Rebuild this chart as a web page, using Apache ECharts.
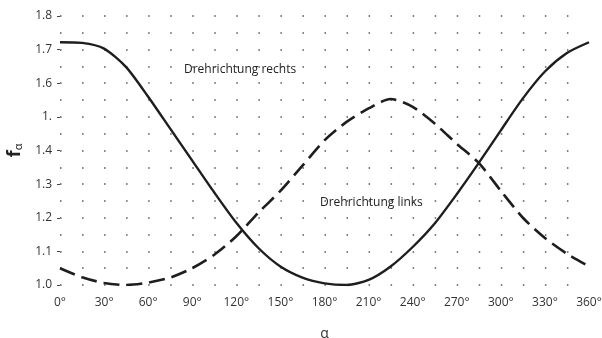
<!DOCTYPE html>
<html><head><meta charset="utf-8">
<script src="https://cdn.jsdelivr.net/npm/echarts@6/dist/echarts.min.js"></script>
<style>html,body{margin:0;padding:0;background:#fff}#c{width:602px;height:338px}</style>
</head><body><div id="c"></div>
<script>
var angles = [0,15,30,45,60,75,90,105,120,135,150,165,180,195,210,225,240,255,270,285,300,315,330,345,360];
var rechts = [1.722,1.720,1.703,1.648,1.56,1.465,1.37,1.275,1.185,1.11,1.055,1.022,1.005,1.0,1.015,1.055,1.113,1.183,1.27,1.363,1.46,1.555,1.635,1.69,1.722];
var links  = [1.05,1.023,1.006,1.0,1.007,1.022,1.05,1.09,1.145,1.215,1.28,1.355,1.43,1.485,1.525,1.553,1.53,1.48,1.42,1.363,1.28,1.2,1.14,1.093,1.055];
var xTickLabels = ['0°','30°','60°','90°','120°','150°','180°','210°','240°','270°','300°','330°','360°'];
var yTickLabels = ['1.0','1.1','1.2','1.3','1.4','1.','1.6','1.7','1.8'];
var labelRechts = 'Drehrichtung rechts';
var labelLinks = 'Drehrichtung links';

function pairs(a){ return angles.map(function(x,i){ return [x, a[i]]; }); }
var FONT = 'Open Sans';
var chart = echarts.init(document.getElementById('c'), null, {renderer:'canvas'});
chart.setOption({
  animation:false,
  grid:{left:60, right:13, top:16, bottom:53, containLabel:false, outerBoundsMode:'none'},
  xAxis:{
    type:'value', min:0, max:360, interval:30,
    name:'α', nameLocation:'middle', nameGap:42,
    nameTextStyle:{fontFamily:FONT, fontSize:14, color:'#333'},
    axisLine:{show:false}, axisTick:{show:false},
    axisLabel:{fontFamily:FONT, fontSize:12, color:'#333', margin:12,
      formatter:function(v){ return xTickLabels[Math.round(v/30)]; }},
    splitLine:{show:false},
    minorTick:{show:false, splitNumber:2},
    minorSplitLine:{show:false}
  },
  yAxis:{
    type:'value', min:1.0, max:1.8, interval:0.1,
    name:'{f|f}{s|α}', nameLocation:'middle', nameGap:36, nameRotate:90,
    nameTextStyle:{rich:{f:{fontFamily:FONT, fontSize:18, fontWeight:'bold', color:'#222'}, s:{fontFamily:FONT, fontSize:11, color:'#222', padding:[8,0,0,0]}}},
    axisLine:{show:false},
    axisTick:{show:true, length:3, lineStyle:{color:'#444', width:1}},
    axisLabel:{fontFamily:FONT, fontSize:12, color:'#333', margin:8,
      formatter:function(v){ return yTickLabels[Math.round((v-1)*10)]; }},
    splitLine:{show:true, lineStyle:{color:'#555', width:1.5, type:[1.5,20.54]}},
    minorTick:{show:false, splitNumber:2},
    minorSplitLine:{show:true, lineStyle:{color:'#555', width:1.5, type:[1.5,20.54]}}
  },
  series:[
    {type:'line', name:labelRechts, data:pairs(rechts), smooth:0.25, symbol:'none',
     lineStyle:{color:'#1e1e1e', width:2.4}},
    {type:'line', name:labelLinks, data:pairs(links), smooth:0.25, symbol:'none',
     lineStyle:{color:'#1e1e1e', width:2.6, type:[16,7]}}
  ],
  graphic:[
    {type:'text', left:184, top:64, style:{text:labelRechts, fontFamily:FONT, fontSize:12, fill:'#222'}},
    {type:'text', left:320, top:197, style:{text:labelLinks, fontFamily:FONT, fontSize:12, fill:'#222'}}
  ]
});
</script></body></html>
